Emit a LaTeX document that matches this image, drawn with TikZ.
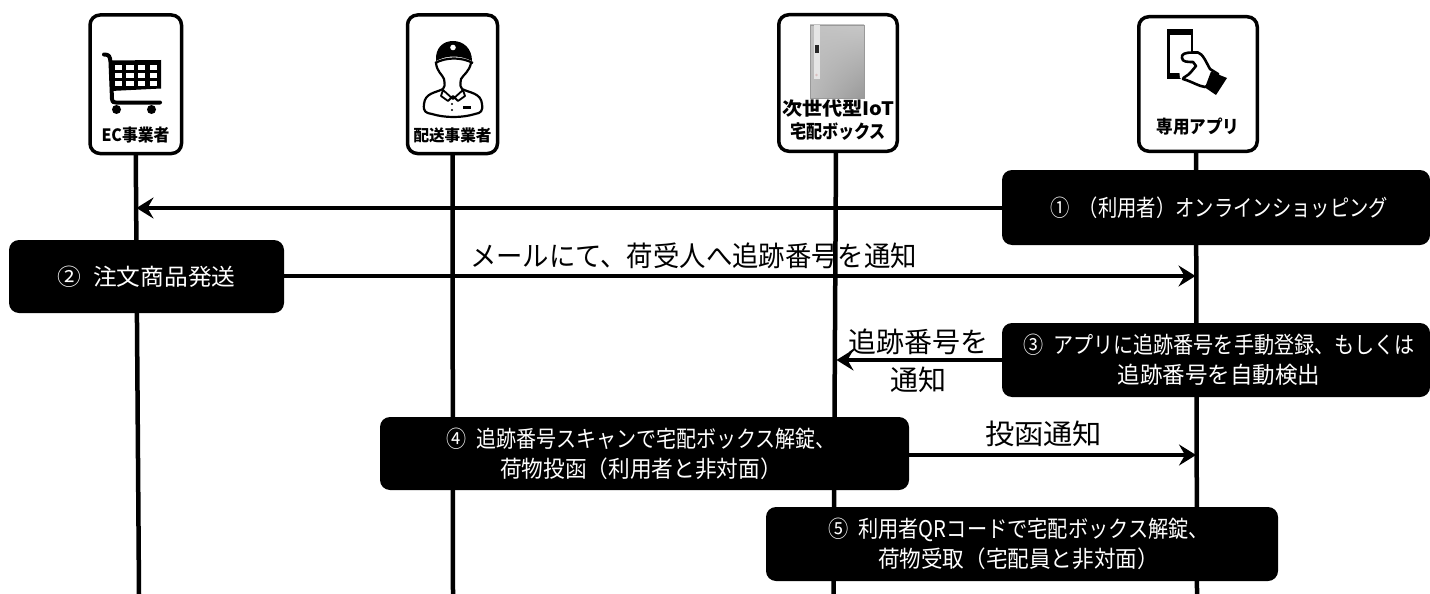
\documentclass[tikz,border=0pt]{standalone}
\usepackage{fontspec}
\usepackage{graphicx}
\setmainfont{Noto Sans CJK JP}
\usetikzlibrary{arrows.meta,backgrounds,shadings}
\newsavebox{\fitbox}
\newcommand{\fitw}[2]{\sbox{\fitbox}{#2}\pgfmathsetmacro{\fitr}{#1/\the\wd\fitbox}\scalebox{\fitr}[1]{\usebox{\fitbox}}}
\newcommand{\fs}[2]{\fontsize{#1}{#2}\selectfont}
\newcommand{\numgap}{\hspace{0.5em}}
\tikzset{
  actorbox/.style={draw=black,line width=3.5pt,rounded corners=10pt,fill=white,outer sep=0pt,inner sep=0pt},
  stepbox/.style={fill=black,text=white,rounded corners=10pt,outer sep=0pt,inner sep=0pt,align=center,font=\fs{23}{30}},
  actorlabel/.style={inner sep=0pt,align=center,font=\bfseries},
  lifeline/.style={line width=4.5pt},
  msg/.style={line width=3.6pt,-{Stealth[length=17pt,width=21pt,inset=6pt]}},
  msglabel/.style={inner sep=0pt,align=center,font=\fs{28}{38}}
}
\begin{document}
\begin{tikzpicture}[x=1pt,y=-1pt]
\useasboundingbox (0,0) rectangle (1430,594);
% actors
\node[actorbox,minimum width=91.5pt,minimum height=138.5pt] (ec) at (135.75,84.25) {};
\node[actorbox,minimum width=90pt,minimum height=138.5pt] (dv) at (452.5,84.25) {};
\node[actorbox,minimum width=118.5pt,minimum height=136.5pt] (bx) at (838,83) {};
\node[actorbox,minimum width=118.5pt,minimum height=134.5pt] (ap) at (1198,84) {};
% actor labels
\node[actorlabel] (ecl) at (135.5,135) {\fitw{68}{\fs{17}{20}\bfseries EC事業者}};
\node[actorlabel] (dvl) at (452.5,135) {\fitw{78}{\fs{16}{20}\bfseries 配送事業者}};
\node[actorlabel,font=\fs{18.5}{23}\bfseries] (bxl) at (838,120) {\fitw{112}{次世代型IoT}\\\fitw{96}{宅配ボックス}};
\node[actorlabel] (apl) at (1198,127) {\fitw{83}{\fs{18}{20}\bfseries 専用アプリ}};
% cart icon
\fill (109.5,60.5) -- (161,60) -- (161,88.5) -- (111,91) -- cycle;
\foreach \cx in {0,1,2,3}\foreach \cy in {0,1,2}{
  \fill[white] ({114.5+\cx*11.7},{65+\cy*8}) rectangle +(7.5,5);}
\draw[line width=4pt,line cap=round,line join=round] (104,54.5) .. controls (109,54.5) and (110,56) .. (110.5,62) -- (112,99) .. controls (112,102) and (113,102.5) .. (116,102.5) -- (160,102.5);
\fill (116.5,109.5) circle (4.5pt) (151.5,109.5) circle (4.5pt);
% delivery person icon
\fill (436,61) .. controls (435,48) and (443,41) .. (453,41) .. controls (463,41) and (472,48) .. (472,61) .. controls (460,55) and (447,55) .. (436,61) -- cycle;
\fill[white] (453,47.5) circle (2.8pt);
\draw[line width=2.2pt,line join=round] (435,63) .. controls (447,57) and (461,57) .. (473,63) (436,63)
  .. controls (437,72) and (442,74) .. (444,79) .. controls (445,85) and (445,87) .. (443,89)
  .. controls (435,93) and (425,93) .. (424,104) .. controls (423,112) and (426,113) .. (432,114)
  .. controls (445,118) and (462,118) .. (475,114) .. controls (481,113) and (483,111) .. (482,104)
  .. controls (481,93) and (470,93) .. (462,89) .. controls (460,87) and (460,85) .. (461,79)
  .. controls (464,74) and (469,72) .. (471,63);
\draw[line width=1.8pt,line join=round] (443,90) -- (453,99) -- (463,90) (443,90) -- (441,96) -- (448,101) -- (453,96) -- (458,101) -- (465,96) -- (463,90);
\fill (452,104) circle (1.2pt) (452,110) circle (1.2pt);
\fill (463,106) rectangle (471,108.5);
% box icon
\shade[lower right=black!40,upper right=black!22,lower left=black!27,upper left=black!24] (810,25) rectangle (864,98);
\draw[black!40,line width=0.8pt] (810,25) rectangle (864,98);
\fill[black!10] (813.5,25) rectangle (820,79);
\fill[black!85] (814.5,45) rectangle (819,53);
\fill[red!40!black!25] (816.5,75) circle (1.3pt);
% phone and hand icon
\fill (1167,29) rectangle (1193,79);
\fill[white] (1170,35) rectangle (1190.5,73);
\fill[white] (1178,60) -- (1202,52) -- (1222,72) -- (1206,86) -- (1193,86) -- (1180,78) -- cycle;
\draw[line width=2.6pt,line join=round,fill=white] (1193,52.5) .. controls (1185,52.5) and (1181,54) .. (1182,58) .. controls (1182,62) and (1188,62) .. (1193,62) -- (1196,66) -- (1191,72) .. controls (1188,76) and (1183,77) .. (1183,79) .. controls (1193,82) and (1198,86) .. (1205,87) -- (1211,84) -- (1218,74) -- (1210,69) .. controls (1206,62) and (1203,54) .. (1198,52.5) -- cycle;
\fill (1211,71.5) -- (1227,78) -- (1216,95) -- (1205,87.5) -- cycle;
% step boxes
\node[stepbox,minimum width=428pt,minimum height=75pt] (s1) at (1216,207.5) {\hspace{6pt}\fitw{338}{①\numgap （利用者）オンラインショッピング}};
\node[stepbox,minimum width=275pt,minimum height=73pt] (s2) at (146.5,276.5) {\fitw{178}{②\numgap 注文商品発送}};
\node[stepbox,minimum width=428pt,minimum height=74pt] (s3) at (1216,360) {\hspace{6pt}\fitw{392}{③\numgap アプリに追跡番号を手動登録、もしくは}\\\hspace{6pt}\fitw{203}{追跡番号を自動検出}};
\node[stepbox,minimum width=529pt,minimum height=73pt] (s4) at (644.5,453.5) {\hspace{-7pt}\fitw{390}{④\numgap 追跡番号スキャンで宅配ボックス解錠、}\\\hspace{-7pt}\fitw{282}{荷物投函（利用者と非対面）}};
\node[stepbox,minimum width=512pt,minimum height=74pt] (s5) at (1022,544) {\hspace{-7pt}\fitw{381}{⑤\numgap 利用者QRコードで宅配ボックス解錠、}\\\hspace{-7pt}\fitw{281}{荷物受取（宅配員と非対面）}};
% lifeline ends and arrow targets
\coordinate (ece) at (139,594);
\coordinate (dve) at (453,594);
\coordinate (bxe) at (833.5,594);
\coordinate (ape) at (1197,594);
\coordinate (t1) at (136.5,208);
\coordinate (t2) at (1195.5,276);
\coordinate (t3) at (836.5,360);
\coordinate (t4) at (1196,455);
\begin{scope}[on background layer]
\draw[lifeline] (ec.south) -- (ece);
\draw[lifeline] (dv.south) -- (dve);
\draw[lifeline] ([xshift=-2pt]bx.south) -- (bxe);
\draw[lifeline] ([xshift=-2pt]ap.south) -- (ape);
\draw[msg] (s1.west |- t1) -- (t1);
\draw[msg] (s2.east |- t2) -- (t2);
\draw[msg] (s3.west |- t3) -- (t3);
\draw[msg] (s4.east |- t4) -- (t4);
\end{scope}
% message labels
\node[msglabel] (m2) at (693.5,256) {\fitw{447}{メールにて、荷受人へ追跡番号を通知}};
\node[msglabel] (m3) at (918,361) {追跡番号を\\通知};
\node[msglabel] (m4) at (1043.5,434) {\fitw{117}{投函通知}};
\end{tikzpicture}
\end{document}
